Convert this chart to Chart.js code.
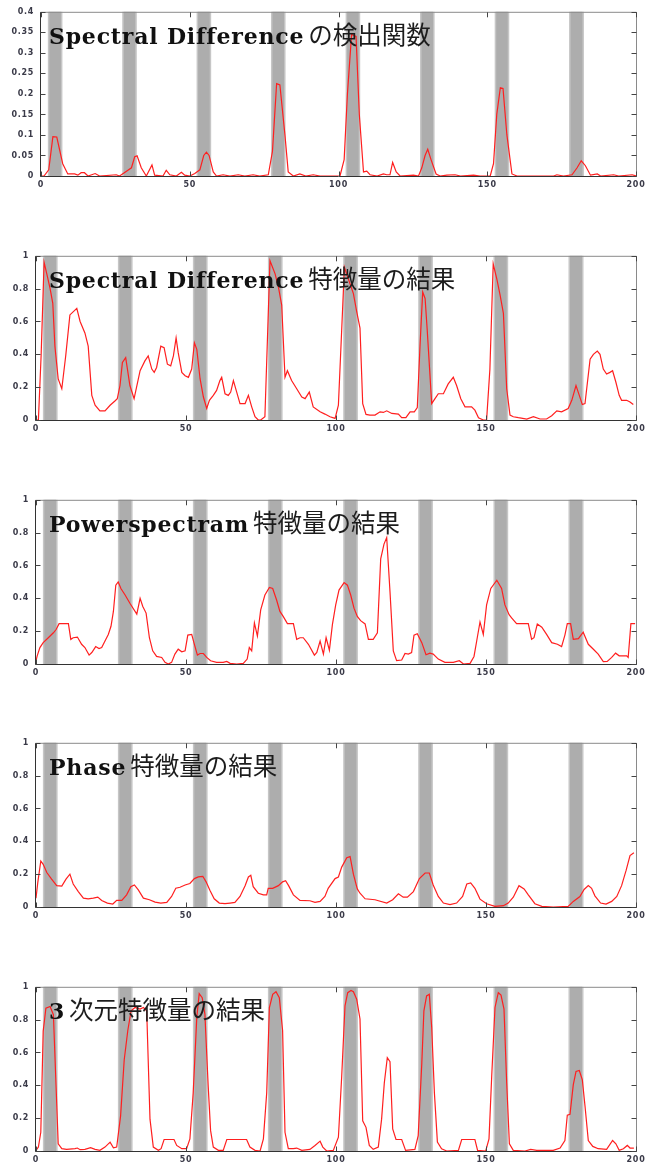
<!DOCTYPE html>
<html>
<head>
<meta charset="utf-8">
<script src="https://cdn.jsdelivr.net/npm/chart.js@4/dist/chart.umd.min.js"></script>
<style>
html, body { margin: 0; padding: 0; background: #fff; overflow: hidden; }
body { width: 656px; height: 1162px; position: relative; }
.panel { position: absolute; left: 0; width: 656px; height: 190px; }
.panel canvas { position: absolute; left: 0; top: 0; }
.title { position: absolute; left: 49px; top: 19px; white-space: nowrap; line-height: 30px; }
.title .en { font-family: "DejaVu Serif"; font-weight: bold; font-size: 22px; letter-spacing: 0.8px; color: #111; }
.title .ja { font-family: "Noto Sans CJK JP"; font-size: 24.5px; color: #1c1c1c; }
</style>
</head>
<body>
<div class="panel" style="top:0px"><canvas id="c1" width="656" height="190"></canvas>
  <div class="title"><span class="en">Spectral Difference</span> <span class="ja">の検出関数</span></div></div>
<div class="panel" style="top:244px"><canvas id="c2" width="656" height="190"></canvas>
  <div class="title"><span class="en">Spectral Difference</span> <span class="ja">特徴量の結果</span></div></div>
<div class="panel" style="top:488px"><canvas id="c3" width="656" height="190"></canvas>
  <div class="title"><span class="en">Powerspectram</span> <span class="ja">特徴量の結果</span></div></div>
<div class="panel" style="top:731px"><canvas id="c4" width="656" height="190"></canvas>
  <div class="title"><span class="en">Phase</span> <span class="ja">特徴量の結果</span></div></div>
<div class="panel" style="top:975px"><canvas id="c5" width="656" height="190"></canvas>
  <div class="title"><span class="en">3</span> <span class="ja">次元特徴量の結果</span></div></div>

<script>
// Shot boundary regions (frame numbers)
const bandStart = [2.3, 27.3, 52.3, 77.3, 102.4, 127.4, 152.5, 177.5];
const bandEnd = [7.2, 32.2, 57.2, 82.2, 107.3, 132.3, 157.4, 182.5];

// Spectral Difference detection function
const sdDetX = [
    0, 1, 2.6, 4, 5.3, 7.3, 9, 11.3, 12.4, 13.5,
    14.6, 15.8, 18.2, 19.7, 25.3, 26.4, 28, 30.4, 31.5, 32.3,
    33.7, 35.4, 37.3, 38.2, 41, 42.1, 43.3, 45.5, 47.2, 48.3,
    50, 51.7, 53.4, 54.7, 55.6, 56.5, 57.9, 59, 61.2, 63.5,
    66.3, 68.5, 71.3, 73.5, 76.4, 77.8, 79.2, 80.3, 82, 83.1,
    84.8, 87, 89, 91.5, 93.8, 100.5, 101.9, 103, 104.4, 105.9,
    107, 108.4, 109.5, 110.6, 113, 115.1, 116.2, 117.3, 118.2, 119.4,
    120.7, 125.2, 126.9, 128, 129.1, 130, 131.1, 132.8, 134.2, 136.4,
    139.2, 141, 145.4, 147.6, 151, 152.1, 153.2, 154.4, 155.3, 156.6,
    158.3, 160, 172.3, 173.4, 175.6, 178.5, 180.2, 181.6, 183, 184.7,
    187, 188.1, 192.5, 194.2, 198.7, 200
];
const sdDetY = [
    0, 0, 0.015, 0.096, 0.095, 0.03, 0.005, 0.005, 0.002, 0.008,
    0.008, 0, 0.006, 0, 0.003, 0, 0.008, 0.02, 0.047, 0.049,
    0.02, 0, 0.027, 0.002, 0, 0.014, 0.003, 0, 0.009, 0.002,
    0, 0.006, 0.015, 0.05, 0.058, 0.05, 0.01, 0, 0.003, 0,
    0.003, 0, 0.003, 0, 0.003, 0.06, 0.225, 0.222, 0.1, 0.01,
    0, 0.005, 0, 0.003, 0, 0, 0.04, 0.2, 0.345, 0.34,
    0.15, 0.01, 0.012, 0.003, 0, 0.005, 0.003, 0.003, 0.033, 0.01,
    0, 0.002, 0, 0.02, 0.05, 0.065, 0.04, 0.005, 0, 0.002,
    0.003, 0, 0.002, 0, 0, 0.03, 0.15, 0.215, 0.213, 0.1,
    0.005, 0, 0, 0.003, 0, 0.003, 0.02, 0.037, 0.025, 0.002,
    0.005, 0, 0.003, 0, 0.003, 0
];

// Spectral Difference feature
const sdFeatX = [
    0, 0.8, 1.7, 2.7, 3.6, 4.7, 5.6, 6.3, 7.4, 8.6,
    9.9, 11.3, 13.6, 14.7, 16.3, 17.4, 18.6, 19.7, 21.3, 23,
    24.7, 26.3, 27.1, 28, 28.8, 29.9, 31.3, 32.7, 34.7, 36.3,
    37.4, 38.6, 39.4, 40.2, 41.6, 42.7, 43.8, 44.9, 45.8, 46.7,
    47.4, 48.6, 49.7, 50.8, 51.9, 52.8, 53.6, 54.7, 55.8, 56.9,
    57.8, 59.1, 60.2, 61.3, 61.9, 63, 64.1, 64.9, 65.8, 66.9,
    68, 69.7, 70.8, 71.9, 73, 74.1, 74.9, 76.3, 78, 79.7,
    80.8, 81.9, 83, 83.8, 85.2, 86.9, 88.6, 89.7, 91.1, 92.4,
    94.7, 96.3, 98, 99.7, 100.8, 101.9, 102.8, 104.1, 105.8, 106.9,
    108, 108.9, 110, 111.3, 113, 114.7, 115.8, 116.9, 118.6, 120.8,
    121.9, 123.3, 124.7, 126.1, 127.1, 128, 128.9, 129.7, 130.4, 131.9,
    133, 134.1, 135.8, 137.4, 139.1, 140.2, 141.6, 143, 145.2, 146.3,
    147.5, 149.1, 150.2, 151.3, 152.4, 153.6, 154.7, 155.8, 156.9, 158,
    159.1, 160.8, 163.6, 165.8, 168, 170.2, 171.9, 173.6, 175.2, 177.4,
    178.6, 180, 181.1, 182.1, 183, 184.7, 185.8, 187.1, 188, 189.1,
    190.2, 191.3, 192.2, 193.3, 194.4, 195.2, 196.9, 198, 199.1
];
const sdFeatY = [
    0, 0, 0.39, 0.96, 0.89, 0.8, 0.71, 0.45, 0.25, 0.19,
    0.39, 0.64, 0.68, 0.6, 0.53, 0.45, 0.15, 0.09, 0.056, 0.056,
    0.09, 0.116, 0.13, 0.21, 0.35, 0.38, 0.21, 0.13, 0.3, 0.36,
    0.39, 0.31, 0.29, 0.32, 0.45, 0.44, 0.34, 0.33, 0.39, 0.5,
    0.41, 0.29, 0.27, 0.26, 0.31, 0.47, 0.43, 0.25, 0.14, 0.07,
    0.12, 0.15, 0.18, 0.24, 0.26, 0.16, 0.15, 0.17, 0.24, 0.17,
    0.1, 0.1, 0.15, 0.08, 0.02, 0, 0, 0.02, 0.97, 0.89,
    0.81, 0.7, 0.26, 0.3, 0.24, 0.19, 0.14, 0.13, 0.17, 0.08,
    0.05, 0.036, 0.02, 0.01, 0.09, 0.55, 0.93, 0.86, 0.77, 0.66,
    0.56, 0.1, 0.034, 0.03, 0.03, 0.05, 0.046, 0.056, 0.04, 0.036,
    0.014, 0.014, 0.05, 0.05, 0.076, 0.45, 0.78, 0.74, 0.55, 0.1,
    0.13, 0.16, 0.16, 0.22, 0.26, 0.21, 0.13, 0.08, 0.08, 0.06,
    0.014, 0, 0, 0.31, 0.95, 0.86, 0.76, 0.65, 0.19, 0.03,
    0.02, 0.014, 0.006, 0.02, 0.006, 0.006, 0.026, 0.056, 0.05, 0.07,
    0.12, 0.21, 0.15, 0.094, 0.1, 0.37, 0.4, 0.42, 0.4, 0.31,
    0.28, 0.29, 0.3, 0.23, 0.15, 0.12, 0.12, 0.11, 0.094
];

// Powerspectram feature
const powerX = [
    0, 0.4, 1.3, 2.4, 4.1, 5.8, 6.7, 7.7, 9.1, 10.8,
    11.6, 12.4, 13.8, 15.2, 16.3, 17.7, 18.6, 19.9, 21, 21.9,
    23, 24.1, 25, 25.8, 26.6, 27.4, 28.3, 29.7, 31.3, 33.6,
    34.7, 35.6, 36.7, 37.8, 38.9, 40.2, 41.9, 43, 44.1, 45.2,
    46.3, 47.4, 48.6, 49.7, 50.6, 51.9, 52.8, 53.8, 54.7, 55.8,
    56.9, 58.2, 60.2, 62.4, 63.6, 64.7, 66.9, 69.1, 70.4, 71.1,
    71.9, 72.8, 73.8, 74.9, 76.3, 77.8, 78.9, 80.2, 81.3, 82.4,
    83.8, 85.8, 86.9, 88, 89.1, 90.8, 92.8, 93.6, 94.7, 95.8,
    96.7, 97.8, 98.8, 99.9, 101, 102.7, 103.8, 104.9, 106, 107.1,
    108.2, 109.7, 110.8, 112.4, 113.8, 114.9, 116, 116.9, 118, 119.1,
    120.2, 121.9, 123, 124.1, 125.2, 126, 127.1, 128.6, 130, 131.3,
    132.4, 134.1, 136.3, 139.1, 141.1, 142.5, 144.7, 146, 146.9, 148,
    149.1, 150.2, 151.6, 153.6, 155.2, 156.3, 157.7, 158.6, 160.2, 162.5,
    164.1, 165.2, 166, 167.1, 168.6, 170.2, 171.9, 173.8, 175.2, 176.3,
    177.1, 178.2, 179.1, 180.8, 182.4, 184.1, 185.8, 187.4, 189.1, 190.4,
    191.9, 193.2, 194.4, 196.9, 197.4, 198.3, 199.7
];
const powerY = [
    0.02, 0.05, 0.1, 0.13, 0.16, 0.19, 0.21, 0.246, 0.246, 0.246,
    0.15, 0.16, 0.164, 0.12, 0.1, 0.054, 0.07, 0.106, 0.094, 0.1,
    0.14, 0.18, 0.23, 0.32, 0.48, 0.5, 0.46, 0.42, 0.37, 0.304,
    0.4, 0.35, 0.31, 0.16, 0.08, 0.046, 0.04, 0.01, 0, 0.01,
    0.06, 0.09, 0.074, 0.08, 0.176, 0.18, 0.12, 0.054, 0.064, 0.064,
    0.04, 0.02, 0.01, 0.01, 0.016, 0.004, 0, 0.004, 0.03, 0.1,
    0.08, 0.25, 0.17, 0.33, 0.42, 0.466, 0.46, 0.39, 0.32, 0.29,
    0.246, 0.246, 0.15, 0.16, 0.16, 0.12, 0.054, 0.07, 0.14, 0.06,
    0.16, 0.084, 0.24, 0.36, 0.45, 0.496, 0.48, 0.42, 0.34, 0.29,
    0.264, 0.244, 0.15, 0.15, 0.19, 0.64, 0.73, 0.77, 0.44, 0.08,
    0.02, 0.024, 0.064, 0.06, 0.07, 0.176, 0.184, 0.13, 0.056, 0.066,
    0.06, 0.03, 0.01, 0.01, 0.02, 0, 0.004, 0.046, 0.14, 0.256,
    0.18, 0.36, 0.46, 0.51, 0.46, 0.36, 0.3, 0.28, 0.246, 0.246,
    0.246, 0.15, 0.16, 0.244, 0.224, 0.18, 0.13, 0.12, 0.106, 0.176,
    0.246, 0.246, 0.15, 0.154, 0.194, 0.12, 0.09, 0.06, 0.014, 0.016,
    0.04, 0.066, 0.05, 0.05, 0.04, 0.246, 0.246
];

// Phase feature
const phaseX = [
    0, 0.6, 1.6, 2.4, 3.6, 5.2, 6.9, 8.6, 10, 11.3,
    12.4, 14.1, 15.8, 17.4, 19.1, 20.6, 21.9, 23.8, 25.6, 26.9,
    28.6, 30.2, 31.6, 32.8, 34.1, 35.8, 37.8, 39.7, 41.6, 43.6,
    45.2, 46.6, 48, 49.7, 51.3, 52.8, 54.1, 55.6, 56.7, 58,
    59.4, 61.1, 63, 64.7, 66.3, 68, 69.7, 70.8, 71.6, 72.4,
    74.1, 75.8, 76.9, 77.4, 78.9, 80.8, 82.2, 83.2, 84.2, 85.8,
    88, 91.3, 93, 94.7, 96.3, 97.4, 99.7, 100.8, 101.9, 103.6,
    104.7, 105.8, 107.1, 108, 109.7, 113, 116.9, 118.9, 120.8, 122.4,
    123.8, 125.8, 127.8, 129.7, 131.1, 132.4, 134.1, 135.8, 138, 140.2,
    142.2, 143.6, 144.9, 146.3, 148, 150.2, 153, 155.8, 157.4, 159.1,
    161, 162.7, 164.1, 166.3, 168.6, 172.4, 177.4, 179.1, 181.3, 182.7,
    184.1, 185.2, 186.3, 188.2, 190, 191.9, 193.6, 195.2, 196.7, 198,
    199.3
];
const phaseY = [
    0.054, 0.15, 0.28, 0.26, 0.21, 0.17, 0.13, 0.127, 0.17, 0.2,
    0.14, 0.094, 0.054, 0.05, 0.054, 0.06, 0.04, 0.024, 0.018, 0.04,
    0.04, 0.074, 0.124, 0.134, 0.104, 0.054, 0.044, 0.03, 0.024, 0.028,
    0.064, 0.114, 0.12, 0.134, 0.143, 0.173, 0.183, 0.187, 0.153, 0.1,
    0.05, 0.024, 0.02, 0.024, 0.028, 0.064, 0.13, 0.183, 0.193, 0.124,
    0.084, 0.074, 0.074, 0.114, 0.114, 0.13, 0.153, 0.16, 0.13, 0.074,
    0.04, 0.038, 0.028, 0.034, 0.064, 0.114, 0.173, 0.183, 0.243, 0.3,
    0.307, 0.2, 0.11, 0.084, 0.05, 0.044, 0.024, 0.044, 0.08, 0.06,
    0.06, 0.094, 0.173, 0.207, 0.207, 0.134, 0.064, 0.024, 0.014, 0.024,
    0.064, 0.14, 0.147, 0.114, 0.048, 0.02, 0.004, 0.008, 0.024, 0.06,
    0.13, 0.11, 0.074, 0.02, 0.004, 0, 0.004, 0.034, 0.064, 0.107,
    0.13, 0.114, 0.068, 0.024, 0.018, 0.034, 0.064, 0.13, 0.223, 0.313,
    0.33
];

// 3-D feature
const threeDX = [
    0, 0.8, 1.6, 2.4, 3.3, 4.7, 5.8, 6.7, 7.4, 8.6,
    10.2, 13, 13.8, 14.7, 16.3, 18.2, 19.7, 21.3, 23, 24.7,
    25.8, 26.9, 28.2, 29.4, 30.6, 31.7, 33, 34.7, 35.8, 36.9,
    38, 39.1, 40.8, 41.7, 42.7, 44.1, 46, 46.9, 48.6, 50.2,
    51.3, 52.4, 53.6, 54.4, 55.4, 56.3, 57.4, 58.2, 59.1, 60.8,
    62.4, 63.6, 65.8, 70.2, 71.3, 73, 74.7, 75.8, 76.9, 77.8,
    78.9, 80, 81.1, 82.2, 83, 84.1, 85.8, 86.9, 88.6, 91.3,
    93, 94.7, 95.6, 96.9, 99.1, 100.8, 101.9, 103, 103.9, 105,
    105.8, 106.9, 108, 108.9, 110, 111.1, 112.4, 114.1, 115.2, 116.1,
    117.1, 118, 118.9, 120, 121.9, 123.2, 126.3, 127.4, 128.6, 129.3,
    130.2, 131.1, 131.9, 132.8, 133.8, 135.2, 136.9, 140.8, 141.9, 146.3,
    147.2, 149.9, 151, 151.9, 153, 154.1, 155, 156, 156.9, 157.8,
    159.1, 163, 164.9, 166.9, 172.4, 174.7, 176.3, 177.1, 178, 179.1,
    180, 181.1, 182.1, 183, 184.1, 185.6, 187.4, 190.2, 192.2, 193.3,
    194.4, 195.8, 197.1, 198, 199.3
];
const threeDY = [
    0.004, 0.024, 0.114, 0.73, 0.87, 0.88, 0.83, 0.39, 0.044, 0.014,
    0.01, 0.014, 0.018, 0.008, 0.01, 0.02, 0.01, 0.004, 0.024, 0.054,
    0.02, 0.024, 0.214, 0.554, 0.734, 0.854, 0.874, 0.864, 0.874, 0.854,
    0.194, 0.024, 0.004, 0.014, 0.07, 0.07, 0.07, 0.034, 0.014, 0.014,
    0.074, 0.354, 0.814, 0.958, 0.934, 0.834, 0.394, 0.124, 0.024, 0.004,
    0.004, 0.07, 0.07, 0.07, 0.024, 0.004, 0, 0.074, 0.354, 0.874,
    0.954, 0.97, 0.934, 0.734, 0.114, 0.014, 0.014, 0.018, 0.004, 0.01,
    0.034, 0.06, 0.024, 0, 0.004, 0.084, 0.454, 0.884, 0.964, 0.978,
    0.97, 0.924, 0.804, 0.184, 0.144, 0.034, 0.01, 0.024, 0.194, 0.414,
    0.568, 0.544, 0.134, 0.07, 0.07, 0.004, 0.01, 0.094, 0.534, 0.854,
    0.944, 0.954, 0.754, 0.354, 0.054, 0.014, 0, 0.004, 0.07, 0.07,
    0.004, 0, 0.074, 0.454, 0.874, 0.964, 0.95, 0.864, 0.414, 0.044,
    0.004, 0, 0.01, 0.004, 0.004, 0.018, 0.064, 0.218, 0.224, 0.404,
    0.484, 0.49, 0.434, 0.274, 0.064, 0.028, 0.014, 0.01, 0.064, 0.044,
    0.004, 0.014, 0.034, 0.018, 0.018
];

const tickFont = { family: 'DejaVu Sans', size: 8, weight: 'bold' };
const tickColor = '#3a3a48';

// Gray shot-boundary bands behind the curve
const bandPlugin = {
    id: 'bands',
    beforeDraw(chart) {
        chart.ctx.letterSpacing = '0.7px';
    },
    beforeDatasetsDraw(chart) {
        const { ctx, chartArea: a, scales: { x } } = chart;
        ctx.save();
        bandStart.forEach((s, i) => {
            const x0 = x.getPixelForValue(s);
            const x1 = x.getPixelForValue(bandEnd[i]);
            ctx.fillStyle = '#c6c6c6';
            ctx.fillRect(x0, a.top, x1 - x0, a.bottom - a.top);
            ctx.fillStyle = '#adadad';
            ctx.fillRect(x0 + 1.5, a.top, x1 - x0 - 3, a.bottom - a.top);
        });
        ctx.restore();
    }
};

// Box border with inward ticks (gnuplot style)
const framePlugin = {
    id: 'frame',
    afterDatasetsDraw(chart) {
        const { ctx, chartArea: a, scales: { x, y } } = chart;
        const L = a.left - 0.5, R = a.right + 0.5, T = a.top + 0.5, B = a.bottom + 0.5;
        ctx.save();
        ctx.lineWidth = 1;
        ctx.strokeStyle = '#8a8a8a';
        ctx.beginPath();
        ctx.moveTo(L, T); ctx.lineTo(R, T); ctx.lineTo(R, B);
        ctx.stroke();
        ctx.strokeStyle = '#333';
        ctx.beginPath();
        ctx.moveTo(L, T); ctx.lineTo(L, B); ctx.lineTo(R, B);
        ctx.stroke();
        ctx.strokeStyle = '#444';
        ctx.beginPath();
        y.ticks.forEach(t => {
            const py = Math.round(y.getPixelForValue(t.value)) + 0.5;
            ctx.moveTo(L, py); ctx.lineTo(L + 5, py);
            ctx.moveTo(R, py); ctx.lineTo(R - 5, py);
        });
        x.ticks.forEach(t => {
            const px = Math.round(x.getPixelForValue(t.value)) + 0.5;
            ctx.moveTo(px, B); ctx.lineTo(px, B - 5);
            ctx.moveTo(px, T); ctx.lineTo(px, T + 5);
        });
        ctx.stroke();
        ctx.restore();
    }
};

function makeChart(id, xs, ys, yMax, yStep, yWidth) {
    const points = xs.map((v, i) => ({ x: v, y: ys[i] }));
    return new Chart(document.getElementById(id), {
        type: 'line',
        data: {
            datasets: [{
                data: points,
                borderColor: '#ff1f1f',
                borderWidth: 1.2,
                pointRadius: 0,
                tension: 0,
                fill: false
            }]
        },
        options: {
            responsive: false,
            animation: false,
            devicePixelRatio: 1,
            layout: { padding: { top: 9, right: 20, left: 0, bottom: 0 } },
            plugins: { legend: { display: false }, tooltip: { enabled: false } },
            scales: {
                x: {
                    type: 'linear', min: 0, max: 200,
                    ticks: { stepSize: 50, font: tickFont, color: tickColor, padding: 4, maxRotation: 0 },
                    grid: { display: false, drawTicks: false }, border: { display: false },
                    afterFit: s => { s.height = 14; }
                },
                y: {
                    min: 0, max: yMax,
                    ticks: {
                        stepSize: yStep, font: tickFont, color: tickColor, padding: 7,
                        callback: v => String(Math.round(v * 100) / 100)
                    },
                    grid: { display: false, drawTicks: false }, border: { display: false },
                    afterFit: s => { s.width = yWidth; }
                }
            }
        },
        plugins: [bandPlugin, framePlugin]
    });
}

makeChart('c1', sdDetX, sdDetY, 0.4, 0.05, 41);
makeChart('c2', sdFeatX, sdFeatY, 1, 0.2, 36);
makeChart('c3', powerX, powerY, 1, 0.2, 36);
makeChart('c4', phaseX, phaseY, 1, 0.2, 36);
makeChart('c5', threeDX, threeDY, 1, 0.2, 36);
</script>
</body>
</html>
